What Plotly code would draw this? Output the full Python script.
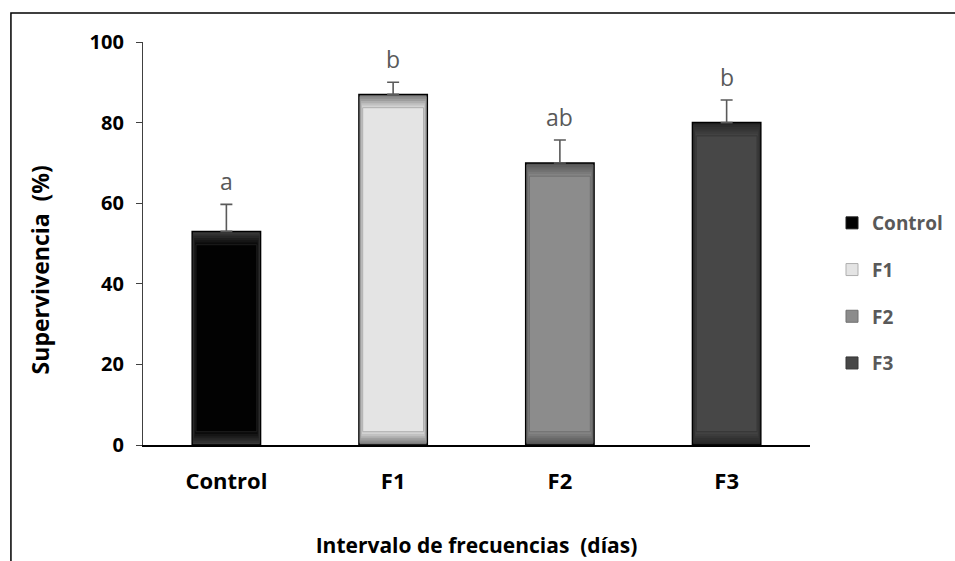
import plotly.graph_objects as go

# Survival (%) by feeding-frequency interval
categories = ["Control", "F1", "F2", "F3"]
survival = [53, 87, 70, 80]
survival_err = [6.7, 3.0, 5.7, 5.6]
group_letters = ["a", "b", "ab", "b"]
y_ticks = [0, 20, 40, 60, 80, 100]

# Bevelled bar look: outer edge colour blending into the face colour
edge_colors = ["#3a3a3a", "#7a7a7a", "#555555", "#262626"]
face_colors = ["#020202", "#e4e4e4", "#8c8c8c", "#474747"]

FONT = "Open Sans"
BAR_W = 0.41
LAYERS = 6


def mix(c1, c2, t):
    a = [int(c1[i:i + 2], 16) for i in (1, 3, 5)]
    b = [int(c2[i:i + 2], 16) for i in (1, 3, 5)]
    return "#" + "".join(f"{round(x + (y - x) * t):02x}" for x, y in zip(a, b))


fig = go.Figure()

for i, cat in enumerate(categories):
    # outer bar: outline and error bar
    fig.add_trace(go.Bar(
        x=[cat], y=[survival[i]], width=BAR_W, name=cat,
        legendgroup=cat, showlegend=False,
        marker=dict(color=edge_colors[i], line=dict(color="#000000", width=1.5)),
        error_y=dict(type="data", array=[survival_err[i]], arrayminus=[0],
                     symmetric=False, color="#5a5a5a", thickness=1.6, width=6),
    ))
    # inner layers give a soft bevel towards the face colour;
    # the innermost one carries the legend entry
    for k in range(1, LAYERS + 1):
        inset = 0.55 * k
        last = k == LAYERS
        fig.add_trace(go.Bar(
            x=[cat], y=[survival[i] - 2 * inset], base=[inset],
            width=BAR_W - 0.0075 * k, name=cat,
            showlegend=last, legendgroup=cat,
            hoverinfo="skip",
            marker=dict(color=mix(edge_colors[i], face_colors[i], k / LAYERS),
                        line=dict(color=mix(edge_colors[i], face_colors[i], 0.5),
                                  width=1 if last else 0)),
        ))

# significance letters above each error bar
for cat, v, e, txt in zip(categories, survival, survival_err, group_letters):
    fig.add_annotation(x=cat, y=v + e, text=txt, showarrow=False,
                       yanchor="bottom", yshift=5,
                       font=dict(family=FONT, size=23, color="#595959"))

# y-axis title, placed a little below the plot's vertical centre
fig.add_annotation(text="Supervivencia  (%)", textangle=-90,
                   xref="paper", yref="paper", x=-0.154, y=0.434,
                   xanchor="center", yanchor="middle", showarrow=False,
                   font=dict(family=FONT, size=23, color="#000000", weight="bold"))

# outer chart frame
fig.add_shape(type="rect", xref="paper", yref="paper",
              x0=-0.198, x1=1.22, y0=-0.3, y1=1.072,
              line=dict(color="#000000", width=1.5), layer="below")

fig.update_layout(
    width=955, height=561,
    margin=dict(l=143, r=145, t=42, b=116, autoexpand=False),
    paper_bgcolor="white", plot_bgcolor="white",
    barmode="overlay", bargap=0.59,
    showlegend=True,
    legend=dict(x=1.033, y=0.598, xanchor="left", yanchor="top",
                tracegroupgap=19, itemwidth=30,
                font=dict(family=FONT, size=19, color="#595959", weight="bold"),
                bgcolor="rgba(0,0,0,0)"),
    xaxis=dict(
        categoryorder="array", categoryarray=categories,
        showline=True, linecolor="#000000", linewidth=2,
        ticks="", showgrid=False, ticklabelstandoff=16,
        tickfont=dict(family=FONT, size=22, color="#000000", weight="bold"),
        title=dict(text="Intervalo de frecuencias  (días)", standoff=44,
                   font=dict(family=FONT, size=21, color="#000000", weight="bold")),
    ),
    yaxis=dict(
        range=[0, 100], tickvals=y_ticks,
        showline=True, linecolor="#404040", linewidth=1.2,
        ticks="outside", ticklen=6, tickcolor="#404040",
        showgrid=False, zeroline=False, ticklabelstandoff=8,
        tickfont=dict(family=FONT, size=20, color="#000000", weight="bold"),
    ),
)

fig.write_html("out.html")
